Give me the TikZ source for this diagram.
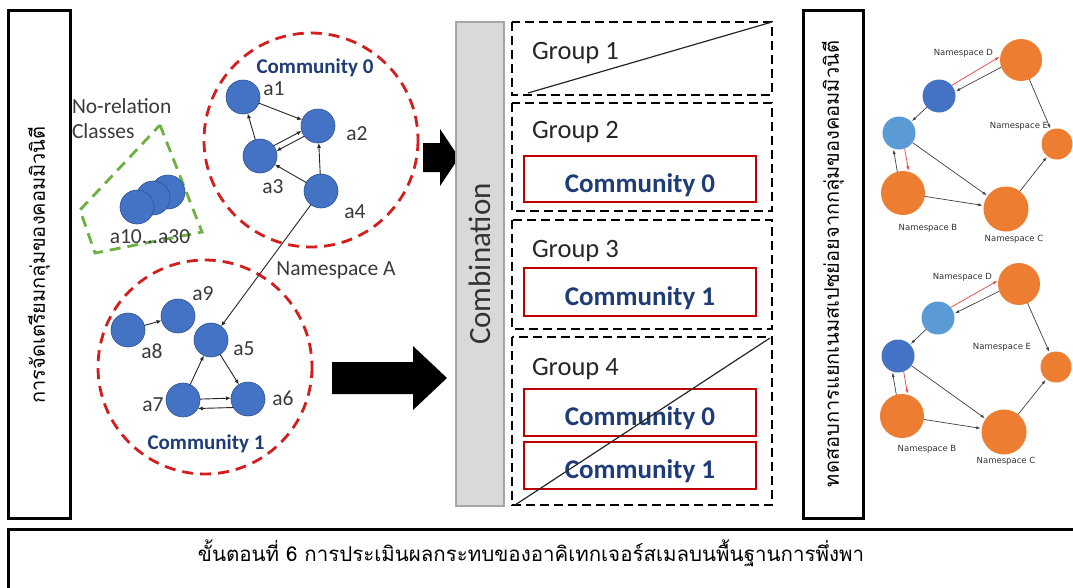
\documentclass[tikz,border=0pt]{standalone}
\usepackage{fontspec}
\setmainfont{Carlito}
\newfontfamily\thaifont[Script=Thai]{Loma}
\newfontfamily\plotfont{DejaVu Sans}
\usetikzlibrary{arrows.meta,calc}

\definecolor{nodeblue}{HTML}{4472C4}
\definecolor{nodeedge}{HTML}{2F528F}
\definecolor{commred}{HTML}{D41E1E}
\definecolor{navy}{HTML}{1F3C78}
\definecolor{grn}{HTML}{6FB043}
\definecolor{boxred}{HTML}{C00000}
\definecolor{barfill}{HTML}{D9D9D9}
\definecolor{barline}{HTML}{A6A6A6}
\definecolor{orng}{HTML}{ED7D31}
\definecolor{lblue}{HTML}{5B9BD5}
\definecolor{dblue}{HTML}{4472C4}
\definecolor{txtgray}{HTML}{3A3A3A}
\definecolor{plotred}{HTML}{E8403A}

\begin{document}
\begin{tikzpicture}[x=1pt,y=-1pt,
  every node/.style={inner sep=0pt, outer sep=0pt},
  frame/.style={draw=black, line width=3pt},
  cnode/.style={circle, fill=nodeblue, draw=nodeedge, line width=0.6pt, minimum size=34pt},
  lbl/.style={font=\fontsize{21.5}{23}\selectfont, text=txtgray, anchor=base},
  comm/.style={font=\bfseries\fontsize{21}{23}\selectfont, text=navy, anchor=base},
  bigcomm/.style={font=\bfseries\fontsize{27}{29}\selectfont, text=navy, anchor=base},
  grplbl/.style={font=\fontsize{26.5}{28}\selectfont, text=black!85, anchor=base west},
  cedge/.style={draw=black!85, line width=0.9pt, -{Latex[length=5pt,width=4pt]}},
  commring/.style={draw=commred, line width=2.8pt, dash pattern=on 11pt off 7pt},
  groupbox/.style={draw=black, line width=2.5pt, dash pattern=on 9pt off 5pt},
  redbox/.style={draw=boxred, line width=2.5pt},
  pnode/.style={circle, minimum size=#1, draw=none},
  pedge/.style={draw=black!75, line width=0.7pt, shorten >=1pt, -{Latex[length=4.5pt,width=3pt]}},
  predge/.style={draw=plotred, line width=0.7pt, shorten >=1pt, -{Latex[length=4.5pt,width=3pt]}},
  plbl/.style={font=\plotfont\fontsize{8.5}{10}\selectfont, text=black!80},
  thaiv/.style={rotate=90, font=\thaifont\fontsize{20}{22}\selectfont}
]
\useasboundingbox (0,0) rectangle (1073,587);
\fill[white] (0,0) rectangle (1073,587);

% ---------- side panels and caption ----------
\draw[frame] (8,10) rectangle (70,518);
\node[thaiv] (prepTitle) at (39,265) {การจัดเตรียมกลุ่มของคอมมิวนิตี};

\draw[frame] (803,10) rectangle (863,518);
\node[thaiv] (testTitle) at (833,264) {ทดสอบการแยกเนมสเปซย่อยจากกลุ่มของคอมมิวนิตี};

\draw[frame] (8,529) rectangle (1085,600);
\node[font=\thaifont\fontsize{20.5}{24}\selectfont] (caption) at (531,553)
  {ขั้นตอนที่ 6 การประเมินผลกระทบของอาคิเทกเจอร์สเมลบนพื้นฐานการพึ่งพา};

% ---------- no-relation classes ----------
\draw[draw=grn, line width=2.8pt, dash pattern=on 11pt off 7pt]
  (160,125) -- (202,232) -- (95,253) -- (80,210) -- cycle;
\node[cnode] (a30) at (168,192) {};
\node[cnode] (a20) at (153,198) {};
\node[cnode] (a10) at (137,207) {};
\node[lbl, anchor=base west] (noRel) at (72,113) {No-relation};
\node[lbl, anchor=base west] (classes) at (72,138) {Classes};
\node[lbl] (aRange) at (150,243) {a10...a30};

% ---------- community 0 ----------
\draw[commring] (311,140) circle (107);
\node[comm] (c0title) at (315,73) {Community 0};
\node[cnode] (a1) at (243,97) {};
\node[cnode] (a2) at (318,126) {};
\node[cnode] (a3) at (260,156) {};
\node[cnode] (a4) at (321,191) {};
\node[lbl] (la1) at (274,95) {a1};
\node[lbl] (la2) at (357,140) {a2};
\node[lbl] (la3) at (273,193) {a3};
\node[lbl] (la4) at (355,218) {a4};

\draw[cedge] (a1) -- (a2);
\draw[cedge] (a3) -- (a1);
\draw[cedge] (a3.37) -- (a2.197);
\draw[cedge] (a2.217) -- (a3.17);
\draw[cedge] (a4) -- (a3);
\draw[cedge] (a4) -- (a2);

% ---------- community 1 ----------
\draw[commring] (205,367) circle (107);
\node[comm] (c1title) at (206,449) {Community 1};
\node[cnode] (a5) at (211,340) {};
\node[cnode] (a6) at (248,399) {};
\node[cnode] (a7) at (183,400) {};
\node[cnode] (a8) at (128,330) {};
\node[cnode] (a9) at (178,316) {};
\node[lbl] (la5) at (244,355) {a5};
\node[lbl] (la6) at (283,405) {a6};
\node[lbl] (la7) at (153,411) {a7};
\node[lbl] (la8) at (152,358) {a8};
\node[lbl] (la9) at (203,300) {a9};

\draw[cedge] (a8) -- (a9);
\draw[cedge] (a7) -- (a5);
\draw[cedge] (a5) -- (a6);
\draw[cedge] (a7.3) -- (a6.177);
\draw[cedge] (a6.-150) -- (a7.-30);

% dependency between the communities
\draw[cedge] (a4) -- (a5);
\node[lbl] (nsA) at (336,275) {Namespace A};

% ---------- block arrows ----------
\fill[black] (423,143) -- (440,143) -- (440,129) -- (459,157.5) -- (440,186) -- (440,172) -- (423,172) -- cycle;
\fill[black] (332,362) -- (413,362) -- (413,346) -- (447,378) -- (413,410) -- (413,394) -- (332,394) -- cycle;

% ---------- combination bar ----------
\draw[fill=barfill, draw=barline, line width=2pt] (456,22) rectangle (504,506);
\node[rotate=90, font=\fontsize{31}{33}\selectfont, text=black!80] (combo) at (480,264) {Combination};

% ---------- groups ----------
\draw[groupbox] (512,22) rectangle (772,95);
\node[grplbl] (g1) at (532,59) {Group 1};
\coordinate (g1a) at (528,93);
\coordinate (g1b) at (772,22);
\draw[black!85, line width=1.2pt] (g1a) -- (g1b);

\draw[groupbox] (512,103) rectangle (772,211);
\node[grplbl] (g2) at (532,138) {Group 2};
\draw[redbox] (524,156) rectangle (756,202);
\node[bigcomm] (g2c0) at (640,192) {Community 0};

\draw[groupbox] (512,220) rectangle (772,329);
\node[grplbl] (g3) at (532,257) {Group 3};
\draw[redbox] (524,268) rectangle (756,316);
\node[bigcomm] (g3c1) at (640,305) {Community 1};

\draw[groupbox] (512,337) rectangle (772,505);
\node[grplbl] (g4) at (532,375) {Group 4};
\draw[redbox] (524,389) rectangle (756,436);
\node[bigcomm] (g4c0) at (640,425) {Community 0};
\draw[redbox] (524,442) rectangle (756,489);
\node[bigcomm] (g4c1) at (640,478) {Community 1};
\coordinate (g4a) at (515,505);
\coordinate (g4b) at (770,338);
\draw[black!85, line width=1.2pt] (g4a) -- (g4b);

% ---------- split test: first layout ----------
\node[pnode=33pt, fill=dblue] (tDark) at (939,96) {};
\node[pnode=33pt, fill=lblue] (tLight) at (899,133) {};
\node[pnode=42pt, fill=orng] (tD) at (1021,60) {};
\node[pnode=31pt, fill=orng] (tE) at (1057,144) {};
\node[pnode=45pt, fill=orng] (tC) at (1006,209) {};
\node[pnode=44pt, fill=orng] (tB) at (903,193) {};
\node[plbl, anchor=east] (tDl) at (993,53) {Namespace D};
\node[plbl] (tEl) at (1019,126) {Namespace E};
\node[plbl] (tBl) at (928,228) {Namespace B};
\node[plbl] (tCl) at (1014,239) {Namespace C};

\draw[predge] (tDark.40) -- (tD.170);
\draw[pedge] (tD.200) -- (tDark.15);
\draw[pedge] (tDark) -- (tLight);
\draw[pedge] (tLight) -- (tC);
\draw[pedge] (tB.105) -- (tLight.250);
\draw[predge] (tLight.290) -- (tB.75);
\draw[pedge] (tB) -- (tC);
\draw[pedge] (tC) -- (tE);
\draw[pedge] (tD) -- (tE);

% ---------- split test: second layout ----------
\node[pnode=33pt, fill=lblue] (bLight) at (938,318) {};
\node[pnode=33pt, fill=dblue] (bDark) at (898,356) {};
\node[pnode=42pt, fill=orng] (bD) at (1019,284) {};
\node[pnode=31pt, fill=orng] (bE) at (1056,367) {};
\node[pnode=45pt, fill=orng] (bC) at (1004,432) {};
\node[pnode=44pt, fill=orng] (bB) at (902,416) {};
\node[plbl, anchor=east] (bDl) at (992,277) {Namespace D};
\node[plbl] (bEl) at (1002,347) {Namespace E};
\node[plbl] (bBl) at (927,449) {Namespace B};
\node[plbl] (bCl) at (1006,461) {Namespace C};

\draw[predge] (bLight.40) -- (bD.170);
\draw[pedge] (bD.200) -- (bLight.15);
\draw[pedge] (bLight) -- (bDark);
\draw[pedge] (bDark) -- (bC);
\draw[pedge] (bB.105) -- (bDark.250);
\draw[predge] (bDark.290) -- (bB.75);
\draw[pedge] (bB) -- (bC);
\draw[pedge] (bC) -- (bE);
\draw[pedge] (bD) -- (bE);
\end{tikzpicture}
\end{document}
